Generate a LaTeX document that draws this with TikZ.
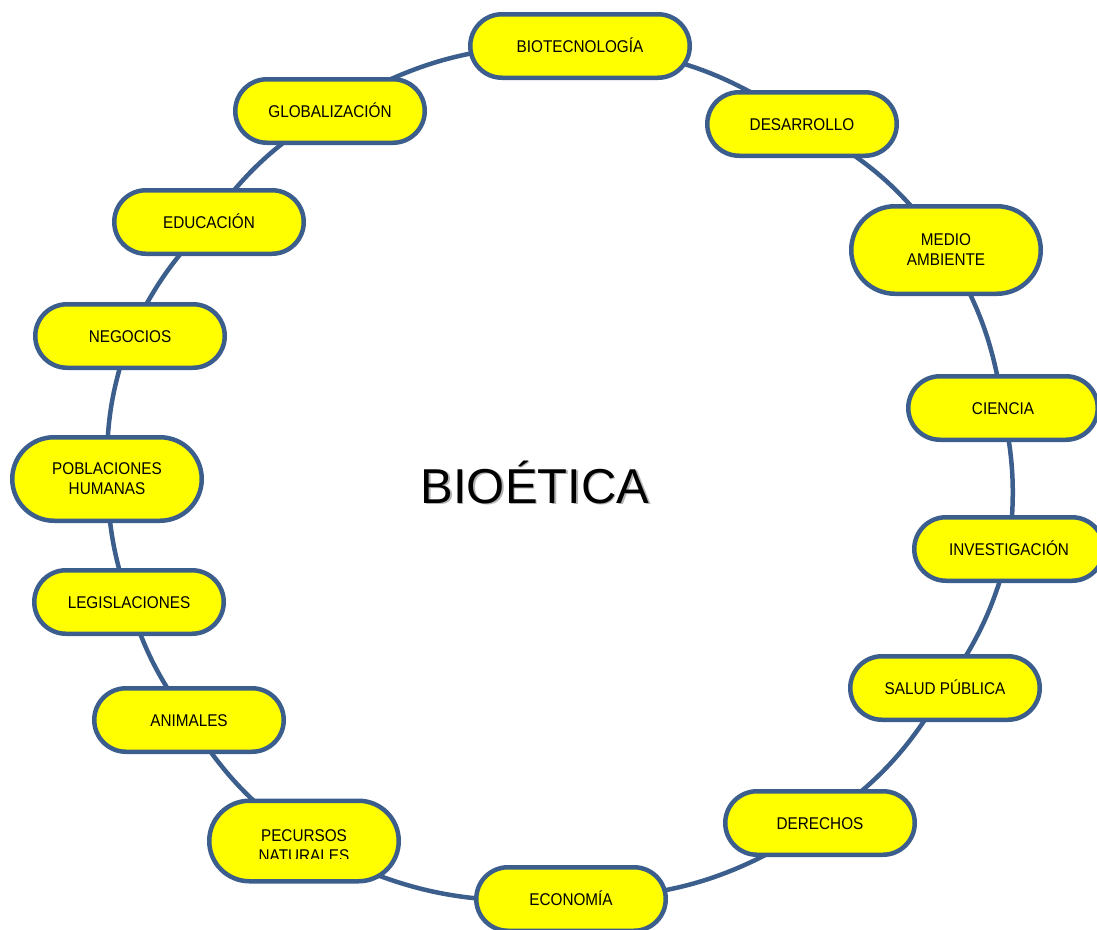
\documentclass[tikz,border=0pt]{standalone}
\usepackage{fontspec}
\setmainfont{Liberation Sans}
\newfontfamily\nf[FakeStretch=0.9]{Liberation Sans}
\usetikzlibrary{shapes.misc,backgrounds}
\definecolor{bord}{RGB}{59,94,141}
\definecolor{fillY}{RGB}{255,255,0}
\begin{document}
\begin{tikzpicture}[x=1pt,y=1pt,
  base/.style={rounded rectangle, draw=bord, line width=4.5pt, fill=fillY,
    minimum width=189.5pt, minimum height=63.5pt,
    font=\nf\fontsize{17}{20}\selectfont, align=center, inner sep=0pt},
  box/.style={base, text height=12.4pt, text depth=0pt},
  txt/.style={font=\nf\fontsize{17}{20}\selectfont, align=center, inner sep=0pt},
  link/.style={draw=bord, line width=4.5pt},
  title/.style={font=\fontsize{49}{55}\selectfont, anchor=base, inner sep=0pt}]
\useasboundingbox (0,0) rectangle (1097,-929);

\node[box, minimum width=219.5pt] (bio) at (580,-46) {BIOTECNOLOGÍA};
\node[box] (des) at (802,-124) {DESARROLLO};
\node[base, minimum height=87.5pt] (med) at (946,-250) {MEDIO\\AMBIENTE};
\node[box] (cie) at (1003,-408) {CIENCIA};
\node[box] (inv) at (1009,-549) {INVESTIGACIÓN};
\node[box] (sal) at (945,-688) {SALUD PÚBLICA};
\node[box] (der) at (820,-823) {DERECHOS};
\node[box] (eco) at (571,-899) {ECONOMÍA};
\node[base, minimum height=80.5pt] (pec) at (304,-841) {};
\node[box] (ani) at (189,-720) {ANIMALES};
\node[box] (leg) at (129,-602) {LEGISLACIONES};
\node[base, minimum height=83.5pt] (pob) at (107,-479) {POBLACIONES\\HUMANAS};
\node[box] (neg) at (130,-336) {NEGOCIOS};
\node[box] (edu) at (209,-222) {EDUCACIÓN};
\node[box] (glo) at (330,-111) {GLOBALIZACIÓN};

\begin{scope}
  \clip (200,-790) rectangle (410,-858);
  \node[txt] (pect) at (304,-846) {PECURSOS\\NATURALES};
\end{scope}

\begin{pgfonlayer}{background}
  \draw[link] (bio.center) to[bend left=15] (des.center);
  \draw[link] (des.center) to[bend left=13] (med.center);
  \draw[link] (med.center) to[bend left=11] (cie.center);
  \draw[link] (cie.center) to[bend left=9] (inv.center);
  \draw[link] (inv.center) to[bend left=10] (sal.center);
  \draw[link] (sal.center) to[bend left=12] (der.center);
  \draw[link] (der.center) to[bend left=16] (eco.center);
  \draw[link] (eco.center) to[bend left=16] (pec.center);
  \draw[link] (pec.center) to[bend left=11] (ani.center);
  \draw[link] (ani.center) to[bend left=9] (leg.center);
  \draw[link] (leg.center) to[bend left=8] (pob.center);
  \draw[link] (pob.center) to[bend left=10] (neg.center);
  \draw[link] (neg.center) to[bend left=9] (edu.center);
  \draw[link] (edu.center) to[bend left=11] (glo.center);
  \draw[link] (glo.center) to[bend left=16] (bio.center);
\end{pgfonlayer}

\node[title, text=black!30] (shadow) at (536.5,-504.5) {BIOÉTICA};
\node[title] (bioetica) at (535,-503) {BIOÉTICA};
\end{tikzpicture}
\end{document}
